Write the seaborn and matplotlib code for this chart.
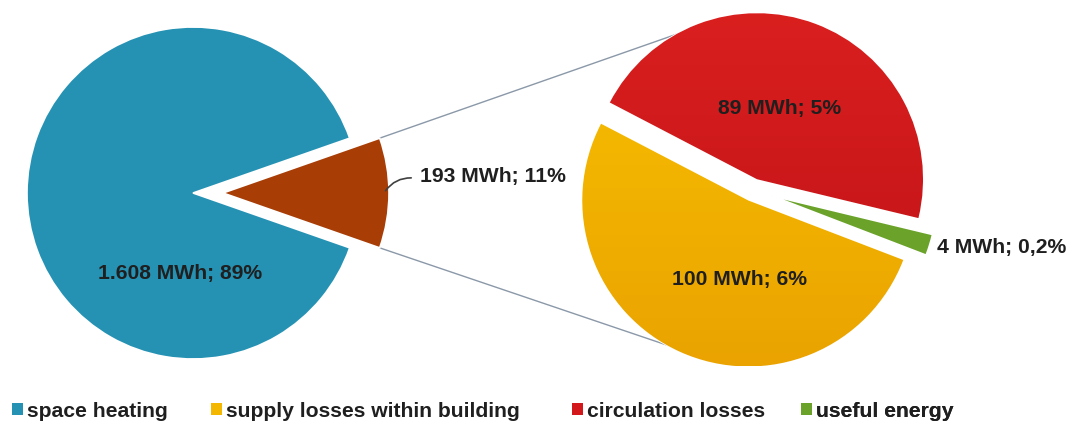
import matplotlib
matplotlib.use("Agg")
import matplotlib.pyplot as plt
from matplotlib.patches import Patch
from matplotlib.colors import LinearSegmentedColormap
import seaborn as sns
import numpy as np

# Energy breakdown (MWh)
main_labels = ["supply, circulation & useful", "space heating"]
main_values = [193, 1608]
main_texts = ["193 MWh; 11%", "1.608 MWh; 89%"]

split_labels = ["useful energy", "circulation losses", "supply losses within building"]
split_values = [4, 89, 100]
split_texts = ["4 MWh; 0,2%", "89 MWh; 5%", "100 MWh; 6%"]

legend_labels = ["space heating", "supply losses within building",
                 "circulation losses", "useful energy"]

sns.set_theme(style="white")
plt.rcParams["font.family"] = ["Liberation Sans", "DejaVu Sans"]

col = {
    "space heating": "#2592b4",
    "rest": "#a83d06",
    "supply losses within building": "#f4b700",
    "circulation losses": "#d2181b",
    "useful energy": "#6aa22a",
}
pal = sns.color_palette([col["rest"], col["space heating"]])
pal2 = sns.color_palette([col["useful energy"], col["circulation losses"],
                          col["supply losses within building"]])

# soft vertical shading for the two large slices of the secondary pie
shade = {
    "circulation losses": ("#da1f1f", "#bf1216"),
    "supply losses within building": ("#f8bf00", "#eaa300"),
}

W, H = 1074, 423
fig = plt.figure(figsize=(W / 100, H / 100), dpi=100)
ax = fig.add_axes([0, 0, 1, 1])

R = 166
c1 = (193, 230)
c2 = (753, 233)

# primary pie: the small share is centred on the right and pulled out
start1 = -main_values[0] / sum(main_values) * 180
w1, _ = ax.pie(main_values, colors=pal, startangle=start1, counterclock=True,
               radius=R, center=c1, explode=[30, 0], frame=True,
               wedgeprops=dict(edgecolor="white", linewidth=1.2))

# secondary pie
w2, _ = ax.pie(split_values, colors=pal2, startangle=-21, counterclock=True,
               radius=R, center=c2, explode=[19, 11.5, 11.5], frame=True,
               wedgeprops=dict(edgecolor="white", linewidth=1.2))

for wedge, name in zip(w2, split_labels):
    if name not in shade:
        continue
    cx, cy = wedge.center
    cmap = LinearSegmentedColormap.from_list(name, list(shade[name]))
    grad = np.linspace(0, 1, 256).reshape(-1, 1)
    im = ax.imshow(grad, cmap=cmap, aspect="auto", origin="upper",
                   extent=[cx - R, cx + R, cy - R, cy + R], zorder=wedge.get_zorder() + 0.1)
    im.set_clip_path(wedge)

ax.set_xlim(0, W)
ax.set_ylim(0, H)
ax.set_aspect("equal")
ax.axis("off")

# series lines from the pulled-out wedge to the secondary pie
bw = w1[0]
bx, by = bw.center
for th, end in [(bw.theta2, (700, H - 26)), (bw.theta1, (705, H - 358))]:
    px = bx + R * np.cos(np.radians(th))
    py = by + R * np.sin(np.radians(th))
    ax.plot([px, end[0]], [py, end[1]], color="#8a98a8", lw=1.0, zorder=0)

lab = dict(fontsize=15.2, fontweight="bold", color="#1f1f1f")
ax.text(180, H - 274, main_texts[1], ha="center", va="center", **lab)
ax.text(420, H - 176, main_texts[0], ha="left", va="center", **lab)
ax.text(780, H - 108, split_texts[1], ha="center", va="center", zorder=5, **lab)
ax.text(740, H - 280, split_texts[2], ha="center", va="center", zorder=5, **lab)
ax.text(937, H - 248, split_texts[0], ha="left", va="center", **lab)

# leader line for the pulled-out share
ax.annotate("", xy=(384, H - 193), xytext=(414, H - 178),
            arrowprops=dict(arrowstyle="-", color="#404040", lw=1.2,
                            connectionstyle="arc3,rad=0.3"))

# legend entries
legend_x = [12, 211, 572, 801]
for name, x in zip(legend_labels, legend_x):
    lg = ax.legend(handles=[Patch(facecolor=col[name], edgecolor="none")],
                   labels=[name], loc="center left",
                   bbox_to_anchor=(x / W, 12 / H), frameon=False,
                   handlelength=0.5, handleheight=0.5, handletextpad=0.2,
                   borderpad=0, borderaxespad=0,
                   prop=dict(family="Liberation Sans", weight="bold", size=15.2),
                   labelcolor="#1f1f1f")
    ax.add_artist(lg)

fig.savefig("out.png", dpi=100)
